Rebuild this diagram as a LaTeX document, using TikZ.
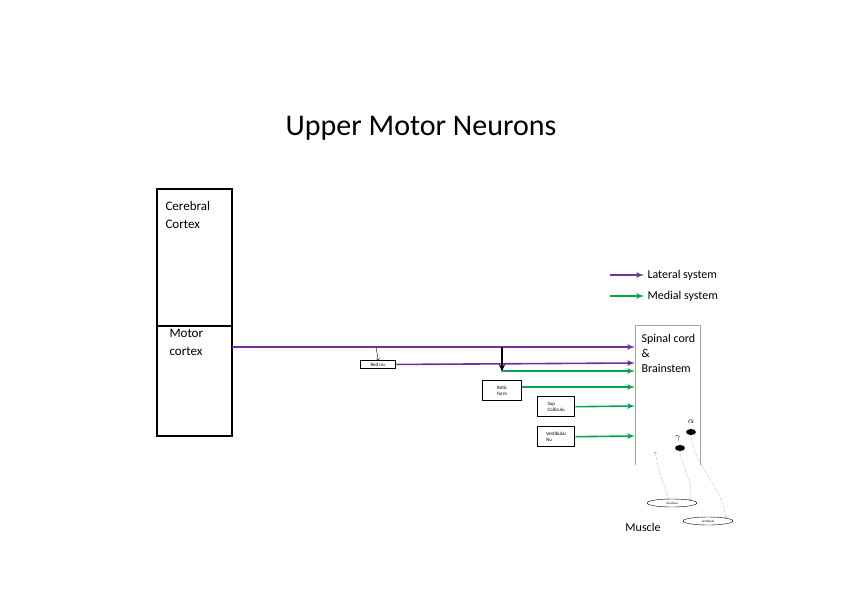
\documentclass[tikz,border=0pt]{standalone}
\usepackage{fontspec}
\setmainfont{Carlito}
\setsansfont{Carlito}
\usepackage{tikz}
\usetikzlibrary{arrows,positioning,shapes.geometric}
\definecolor{latcol}{RGB}{112,48,160}
\definecolor{medcol}{RGB}{0,166,80}
\begin{document}
\begin{tikzpicture}[x=1pt,y=-1pt,font=\sffamily]
    \tikzset{
      nuc/.style={draw, line width=1.4pt, rectangle, font=\sffamily\fontsize{5}{5.5}\selectfont, align=left, inner sep=2pt, anchor=north west},
      latline/.style={draw=latcol, line width=1.6pt, -latex'},
      medline/.style={draw=medcol, line width=1.6pt, -latex'},
      fb/.style={draw, gray, densely dotted, ->},
      fibre/.style={draw, ellipse, minimum width=50pt, minimum height=8pt, inner sep=0pt, font=\fontsize{3}{3}\selectfont}
    }
    \useasboundingbox (0,0) rectangle (842,596);
    \node (title) at (421,128) {\fontsize{30}{34}\selectfont Upper Motor Neurons};
    % cortex column
    \draw[line width=1.4pt] (157,189) rectangle (232,436);
    \draw[line width=1.4pt] (157,326) -- (232,326);
    \node[anchor=north west, align=left, font=\sffamily\fontsize{13}{18}\selectfont] (cc) at (162,198) {Cerebral\\Cortex};
    \node[anchor=north west, align=left, font=\sffamily\fontsize{13}{18}\selectfont] (mc) at (166,326) {Motor\\cortex};
    \coordinate (mcout) at (232,347);
    % legend
    \coordinate (l1) at (610,275);
    \coordinate (l2) at (610,296);
    \node[anchor=west, font=\sffamily\fontsize{12}{14}\selectfont] (lat) at (644,275) {Lateral system};
    \node[anchor=west, font=\sffamily\fontsize{12}{14}\selectfont] (med) at (644,296) {Medial system};
    \path[latline] (l1) -- (lat.west);
    \path[medline] (l2) -- (med.west);
    % spinal cord
    \draw[gray!70] (635,465) -- (635,325) -- (700,325) -- (700,465);
    \node[anchor=north west, align=left, font=\sffamily\fontsize{12}{15}\selectfont] (sc) at (638,331) {Spinal cord\\\&\\Brainstem};
    % nuclei
    \node[nuc, minimum width=35pt] (red) at (360,360) {Red nu.};
    \node[nuc, minimum width=39pt, minimum height=20pt] (retic) at (482,380) {Retic\\form};
    \node[nuc, minimum width=37pt, minimum height=20pt] (sup) at (537,396) {Sup\\Colliculu};
    \node[nuc, minimum width=37pt, minimum height=20pt] (vest) at (537,426) {Vestibular\\Nu};
    % pathways
    \path[latline] (mcout) -- (635,347);
    \draw[->] (376,347) -- (red.north);
    \path[latline] (red.east) -- (635,363);
    \draw[line width=2pt, -latex'] (502,347) -- (502,373);
    \path[medline] (503,371) -- (635,371);
    \path[medline] (retic.east |- 0,387) -- (635,387);
    \path[medline] (sup.east) -- (635,406);
    \path[medline] (vest.east) -- (635,436);
    % motor neurons
    \node[fill, ellipse, minimum width=10pt, minimum height=6pt, inner sep=0pt] (alpha) at (691,432) {};
    \node[fill, ellipse, minimum width=10pt, minimum height=6pt, inner sep=0pt] (gamma) at (680,448) {};
    \node[font=\small] at (691,422) {$\alpha$};
    \node[font=\small] at (678,438) {$\gamma$};
    % muscle
    \node[fibre] (intra) at (672,503) {intrafusal};
    \node[fibre] (extra) at (708,521) {extrafusal};
    \node[font=\sffamily\fontsize{12}{14}\selectfont] (mus) at (643,527) {Muscle};
    \path[fb] (intra.north west) ++(15,0) .. controls (660,475) .. (655,452);
    \path[fb] (gamma.south) .. controls (683,470) and (693,480) .. (intra.north east);
    \path[fb] (alpha.south) .. controls (695,470) and (720,480) .. (extra.north east);
\end{tikzpicture}
\end{document}
